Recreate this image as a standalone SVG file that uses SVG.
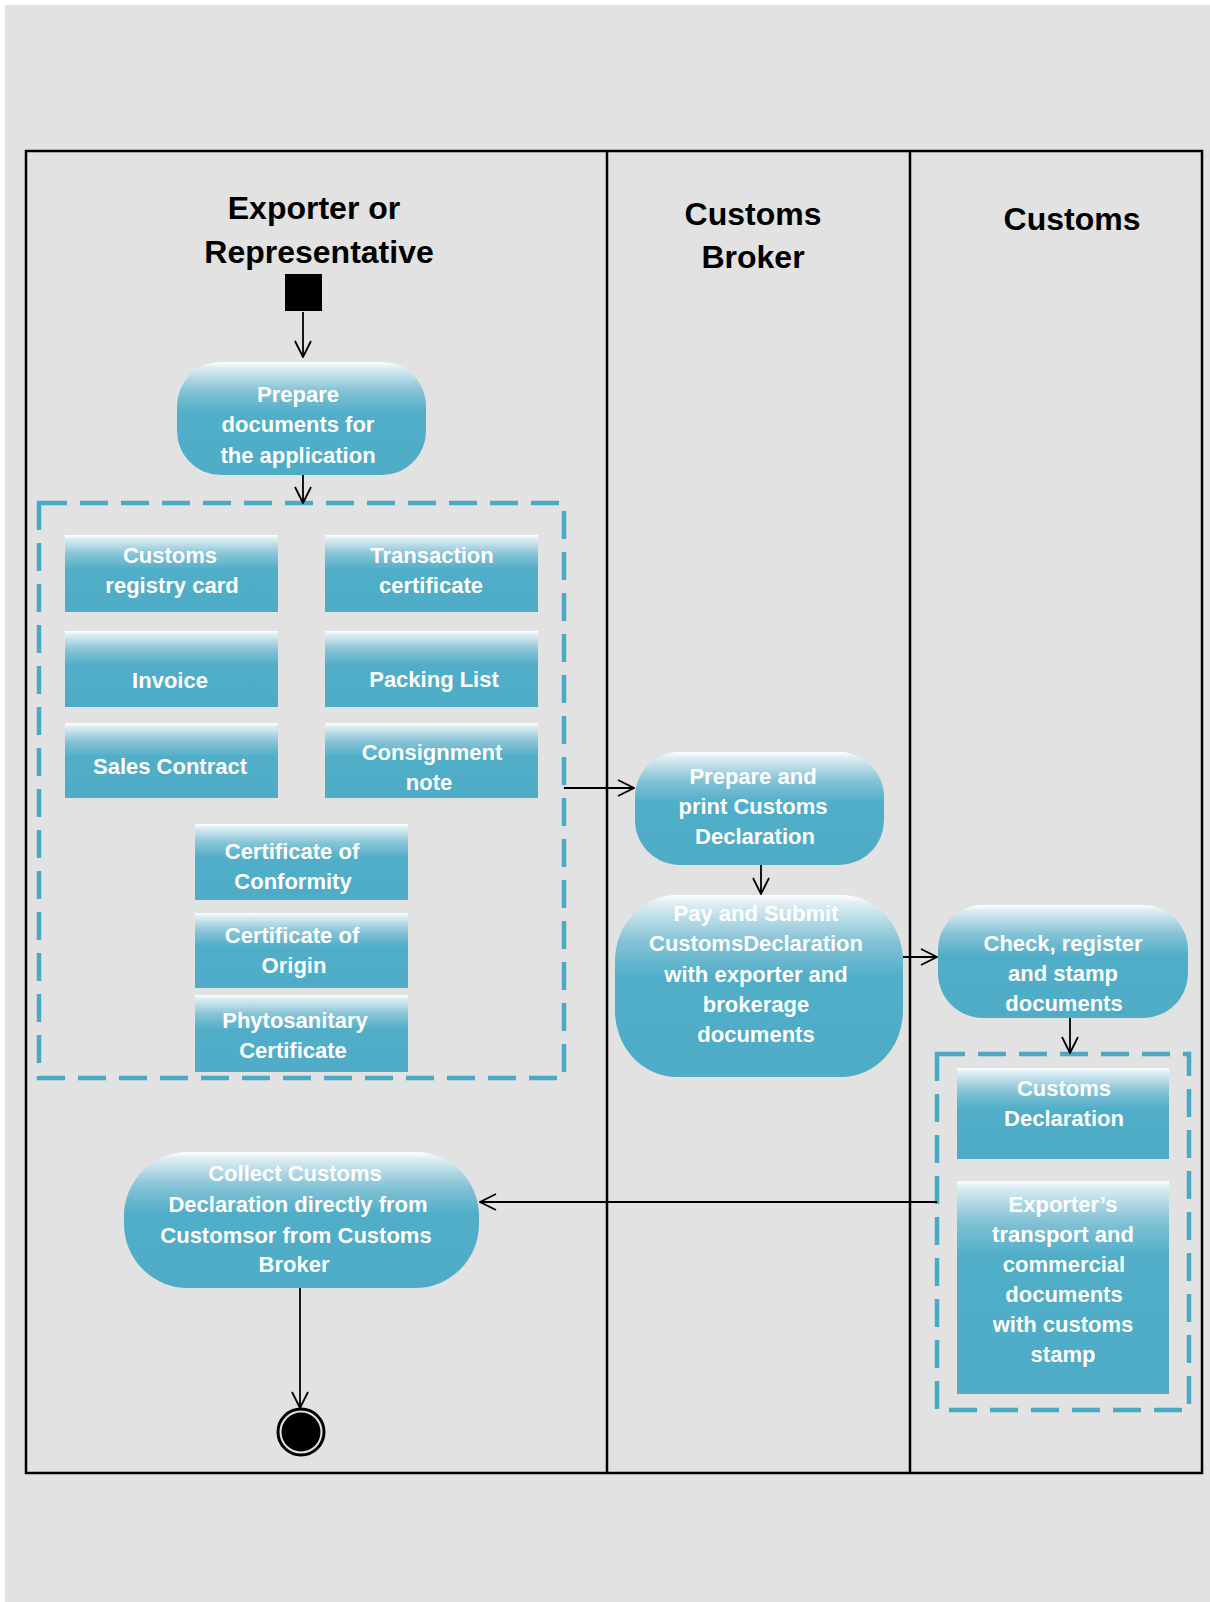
<svg xmlns="http://www.w3.org/2000/svg" width="1210" height="1602" viewBox="0 0 1210 1602">
<defs>
<linearGradient id="g" x1="0" y1="0" x2="0" y2="1">
<stop offset="0" stop-color="#ffffff"/>
<stop offset="0.05" stop-color="#dcedf3"/>
<stop offset="0.25" stop-color="#86c3d6"/>
<stop offset="0.45" stop-color="#50aec8"/>
<stop offset="1" stop-color="#4eacc7"/>
</linearGradient>
<linearGradient id="g2" x1="0" y1="0" x2="0" y2="1">
<stop offset="0" stop-color="#ffffff"/>
<stop offset="0.03" stop-color="#dcedf3"/>
<stop offset="0.18" stop-color="#86c3d6"/>
<stop offset="0.35" stop-color="#50aec8"/>
<stop offset="1" stop-color="#4eacc7"/>
</linearGradient>
<marker id="arr" viewBox="0 0 18 18" refX="17" refY="9" markerWidth="18" markerHeight="18" markerUnits="userSpaceOnUse" orient="auto">
<path d="M1,1 L17,9 L1,17" fill="none" stroke="#000" stroke-width="1.8"/>
</marker>
<style>
.lane{fill:none;stroke:#000;stroke-width:2.5}
.title{font-family:"Liberation Sans",Arial,sans-serif;font-weight:bold;font-size:32px;fill:#000;text-anchor:middle}
.act{fill:url(#g)}
.doc{fill:url(#g)}
.doc2{fill:url(#g2)}
.t{font-family:"Liberation Sans",Arial,sans-serif;font-weight:bold;font-size:22px;fill:#fff;text-anchor:middle}
.dash{fill:none;stroke:#4aaac5;stroke-width:4.5;stroke-dasharray:28 13}
.c{fill:none;stroke:#000;stroke-width:1.8;marker-end:url(#arr)}
</style>
</defs>
<rect x="0" y="0" width="1210" height="1602" fill="#ffffff"/>
<rect x="5" y="5" width="1205" height="1597" fill="#e2e2e2"/>

<g id="lanes">
<rect class="lane" x="26" y="151" width="1176" height="1322"/>
<line class="lane" x1="607" y1="151" x2="607" y2="1473"/>
<line class="lane" x1="910" y1="151" x2="910" y2="1473"/>
<text class="title" x="314" y="219">Exporter or</text>
<text class="title" x="319" y="263">Representative</text>
<text class="title" x="753" y="225">Customs</text>
<text class="title" x="753" y="268">Broker</text>
<text class="title" x="1072" y="230">Customs</text>
</g>

<g id="start"><rect x="285" y="274" width="37" height="37" fill="#000"/></g>

<g id="prepare-docs">
<rect class="act" x="177" y="362" width="249" height="113" rx="44" ry="44"/>
<text class="t" x="298" y="402">Prepare</text>
<text class="t" x="298" y="432">documents for</text>
<text class="t" x="298" y="463">the application</text>
</g>

<g id="docs-group">
<rect class="dash" x="39" y="503" width="525" height="575"/>
</g>

<g id="doc-registry"><rect class="doc" x="65" y="535" width="213" height="77"/>
<text class="t" x="170" y="563">Customs</text><text class="t" x="172" y="593">registry card</text></g>
<g id="doc-transaction"><rect class="doc" x="325" y="535" width="213" height="77"/>
<text class="t" x="432" y="563">Transaction</text><text class="t" x="431" y="593">certificate</text></g>
<g id="doc-invoice"><rect class="doc" x="65" y="631" width="213" height="76"/>
<text class="t" x="170" y="688">Invoice</text></g>
<g id="doc-packing"><rect class="doc" x="325" y="631" width="213" height="76"/>
<text class="t" x="434" y="687">Packing List</text></g>
<g id="doc-sales"><rect class="doc" x="65" y="723" width="213" height="75"/>
<text class="t" x="170" y="774">Sales Contract</text></g>
<g id="doc-consignment"><rect class="doc" x="325" y="723" width="213" height="75"/>
<text class="t" x="432" y="760">Consignment</text><text class="t" x="429" y="790">note</text></g>
<g id="doc-conformity"><rect class="doc" x="195" y="824" width="213" height="76"/>
<text class="t" x="292" y="859">Certificate of</text><text class="t" x="293" y="889">Conformity</text></g>
<g id="doc-origin"><rect class="doc" x="195" y="913" width="213" height="75"/>
<text class="t" x="292" y="943">Certificate of</text><text class="t" x="294" y="973">Origin</text></g>
<g id="doc-phyto"><rect class="doc" x="195" y="995" width="213" height="77"/>
<text class="t" x="295" y="1028">Phytosanitary</text><text class="t" x="293" y="1058">Certificate</text></g>

<g id="prepare-print">
<rect class="act" x="635" y="752" width="249" height="113" rx="45" ry="45"/>
<text class="t" x="753" y="784">Prepare and</text>
<text class="t" x="753" y="814">print Customs</text>
<text class="t" x="755" y="844">Declaration</text>
</g>

<g id="pay-submit">
<rect class="act" x="615" y="895" width="288" height="182" rx="62" ry="66"/>
<text class="t" x="756" y="921">Pay and Submit</text>
<text class="t" x="756" y="951">CustomsDeclaration</text>
<text class="t" x="756" y="982">with exporter and</text>
<text class="t" x="756" y="1012">brokerage</text>
<text class="t" x="756" y="1042">documents</text>
</g>

<g id="check">
<rect class="act" x="938" y="905" width="250" height="113" rx="45" ry="45"/>
<text class="t" x="1063" y="951">Check, register</text>
<text class="t" x="1063" y="981">and stamp</text>
<text class="t" x="1064" y="1011">documents</text>
</g>

<g id="stamped-group">
<rect class="dash" x="937" y="1054" width="252" height="356"/>
</g>
<g id="doc-customs-decl"><rect class="doc" x="957" y="1068" width="212" height="91"/>
<text class="t" x="1064" y="1096">Customs</text><text class="t" x="1064" y="1126">Declaration</text></g>
<g id="doc-exporter"><rect class="doc2" x="957" y="1181" width="212" height="213"/>
<text class="t" x="1063" y="1212">Exporter’s</text>
<text class="t" x="1063" y="1242">transport and</text>
<text class="t" x="1064" y="1272">commercial</text>
<text class="t" x="1064" y="1302">documents</text>
<text class="t" x="1063" y="1332">with customs</text>
<text class="t" x="1063" y="1362">stamp</text></g>

<g id="collect">
<rect class="act" x="124" y="1152" width="355" height="136" rx="64" ry="64"/>
<text class="t" x="295" y="1181">Collect Customs</text>
<text class="t" x="298" y="1212">Declaration  directly from</text>
<text class="t" x="296" y="1243">Customsor from Customs</text>
<text class="t" x="294" y="1272">Broker</text>
</g>

<g id="end">
<circle cx="301" cy="1432" r="23" fill="none" stroke="#000" stroke-width="3"/>
<circle cx="301" cy="1432" r="19.5" fill="#000"/>
</g>

<g id="connectors">
<path class="c" d="M303,312 L303,357"/>
<path class="c" d="M303,475 L303,503"/>
<path class="c" d="M564,788 L634,788"/>
<path class="c" d="M761,865 L761,894"/>
<path class="c" d="M903,957 L937,957"/>
<path class="c" d="M1070,1018 L1070,1053"/>
<path class="c" d="M937,1202 L480,1202"/>
<path class="c" d="M300,1288 L300,1408"/>
</g>
</svg>
